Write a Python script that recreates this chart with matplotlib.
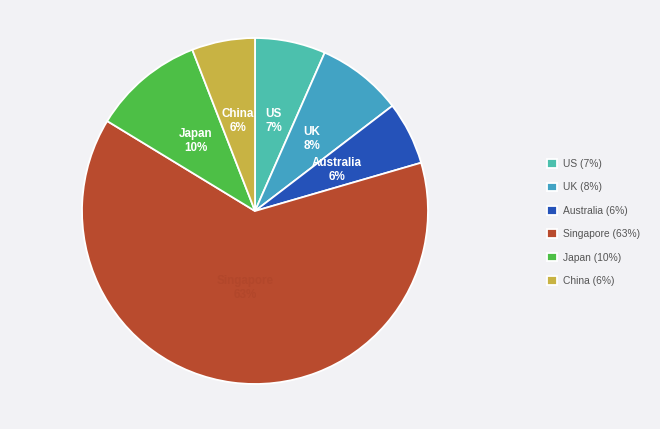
import numpy as np
import matplotlib
matplotlib.use('Agg')
import matplotlib.pyplot as plt

countries = ['US', 'UK', 'Australia', 'Singapore', 'Japan', 'China']
shares = [6.6, 8.0, 5.9, 63.2, 10.4, 5.9]
colors = ['#4cc0ad', '#42a3c4', '#2552b9', '#b94b2e', '#4dbf46', '#c8b343']
pct = [round(s) for s in shares]
legend_labels = [f'{c} ({p}%)' for c, p in zip(countries, pct)]

bg = '#f2f2f5'
W, H = 660, 429
fig = plt.figure(figsize=(W / 100, H / 100), dpi=100, facecolor=bg)

# pie centre (255, 211) px, radius 173 px
cx, cy, r = 255, 211, 173
ax = fig.add_axes([(cx - r) / W, (H - cy - r) / H, 2 * r / W, 2 * r / H])
ax.set_facecolor(bg)

wedges, _ = ax.pie(shares, colors=colors, startangle=90, counterclock=False,
                   radius=1.0, wedgeprops=dict(edgecolor='white', linewidth=1.3))
ax.set_xlim(-1, 1)
ax.set_ylim(-1, 1)
ax.set_aspect('equal')
ax.axis('off')

# labels inside the slices
for w, c, p in zip(wedges, countries, pct):
    mid = np.deg2rad((w.theta1 + w.theta2) / 2)
    if c == 'Singapore':
        d = 0.45
        col = '#b2472b'
    else:
        d = 0.53
        col = 'white'
    ax.text(d * np.cos(mid), d * np.sin(mid), f'{c}\n{p}%', ha='center', va='center',
            fontsize=8.4, fontweight='bold', color=col, linespacing=1.2,
            family='Liberation Sans')

leg = fig.legend(wedges, legend_labels, loc='upper left',
                 bbox_to_anchor=(543 / W, 1 - 155 / H), frameon=False,
                 prop={'family': 'Liberation Sans', 'size': 7.4},
                 handlelength=0.95, handleheight=0.95,
                 handletextpad=0.6, labelspacing=1.3, borderaxespad=0)
for t in leg.get_texts():
    t.set_color('#555555')

fig.savefig('out.png', dpi=100, facecolor=bg)
